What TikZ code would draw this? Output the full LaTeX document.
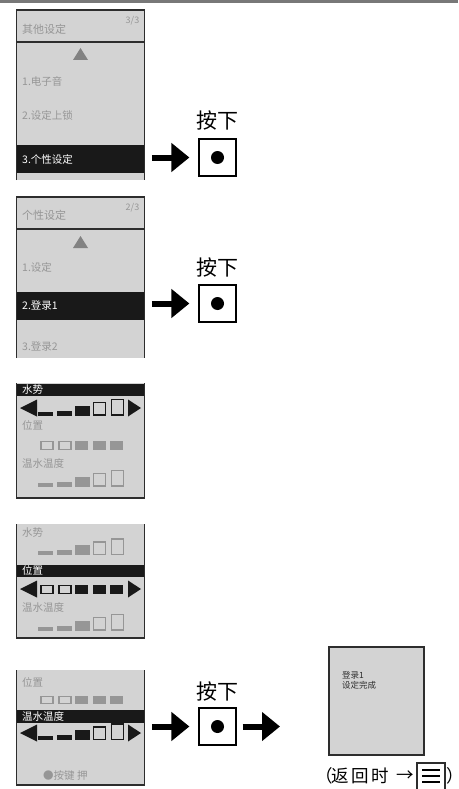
\documentclass[tikz,border=0pt]{standalone}
\usepackage{fontspec}
\setmainfont{Noto Sans CJK SC}
\usetikzlibrary{arrows.meta,calc}
\definecolor{scrfill}{RGB}{211,211,211}
\definecolor{dimtxt}{RGB}{150,150,150}
\definecolor{dimbar}{RGB}{150,150,150}
\definecolor{scrline}{RGB}{45,45,45}
\definecolor{topline}{RGB}{120,120,120}
\definecolor{trigray}{RGB}{130,130,130}
\definecolor{barblack}{RGB}{25,25,25}
\newcommand\levelrow[3]{%
  \fill[#2] (38,#1) rectangle (53,#1-4);
  \fill[#2] (57,#1) rectangle (72,#1-5);
  \fill[#2] (75,#1) rectangle (90,#1-10);
  \draw[#3,line width=1.1pt] (93.5,#1-0.5) rectangle (105.5,#1-13);
  \draw[#3,line width=1.1pt] (111.5,#1-0.5) rectangle (123.5,#1-16);
}
\newcommand\posrow[4]{%
  \draw[#4,line width=1.1pt] (41,#1+0.5) rectangle (53,#2-0.5);
  \draw[#4,line width=1.1pt] (59,#1+0.5) rectangle (71,#2-0.5);
  \fill[#3] (75,#1) rectangle (88,#2);
  \fill[#3] (93,#1) rectangle (106,#2);
  \fill[#3] (110,#1) rectangle (123,#2);
}
\newcommand\selarrows[1]{%
  \fill[barblack] (20,#1) -- (37,#1-8.5) -- (37,#1+8.5) -- cycle;
  \fill[barblack] (141,#1) -- (128,#1-8.5) -- (128,#1+8.5) -- cycle;
}
\newcommand\proppar[1]{{\addfontfeatures{RawFeature=+palt}#1}}
\newcommand\widetxt[1]{{\addfontfeatures{LetterSpace=12}#1}}
\tikzset{
  scrborder/.style={draw=scrline,line width=1.3pt},
  itemtxt/.style={font=\fontsize{10.5}{12}\selectfont,text=dimtxt,anchor=west,inner sep=0},
  hdrtxt/.style={font=\fontsize{11}{13}\selectfont,text=dimtxt,anchor=west,inner sep=0},
  pgtxt/.style={font=\fontsize{9}{11}\selectfont,text=dimtxt,inner sep=0},
  seltxt/.style={font=\fontsize{10.5}{12}\selectfont,text=white,anchor=west,inner sep=0},
  selbar/.style={fill=barblack,minimum width=128pt,inner sep=0,anchor=west},
  btnbox/.style={draw=black,line width=1.2pt,fill=white,minimum size=37pt,inner sep=0},
  presstxt/.style={font=\fontsize{21}{24}\selectfont,inner sep=0},
  bigarrow/.style={line width=6pt,-{Triangle[length=18pt,width=28pt]}},
  donetxt/.style={font=\fontsize{8.5}{10}\selectfont,text=scrline,anchor=west,inner sep=0},
  rettxt/.style={font=\fontsize{17.5}{20}\selectfont,inner sep=0},
}
\begin{document}
\begin{tikzpicture}[x=1pt,y=-1pt]
\useasboundingbox (0,0) rectangle (458,789);
\fill[topline] (0,0) rectangle (458,2.6);

% ---- screen 1
\fill[scrfill] (16.5,10) rectangle (144.5,180);
\node[selbar,minimum height=28pt] (sel1) at (16.5,159) {};
\draw[scrborder] (16.5,180) -- (16.5,10) -- (144.5,10) -- (144.5,180);
\draw[scrborder] (16.5,42) -- (144.5,42);
\node[hdrtxt] (h1) at (22,29) {其他设定};
\node[pgtxt] (pg1) at (132.5,20.5) {3/3};
\fill[trigray] (73,60) -- (88,60) -- (80.5,48) -- cycle;
\node[itemtxt] (i11) at (22,81) {1.电子音};
\node[itemtxt] (i12) at (22,115) {2.设定上锁};
\node[seltxt] (s1) at (22,159) {3.个性设定};

\node[btnbox] (btn1) at (217.5,157.5) {};
\fill (btn1.center) circle (6.5pt);
\node[presstxt] (p1) at ([yshift=18pt]btn1.north) {按下};
\draw[bigarrow] ($(sel1.east |- btn1.west)+(7pt,0)$) -- ($(btn1.west)+(-9pt,0)$);

% ---- screen 2
\fill[scrfill] (16.5,197) rectangle (144.5,358);
\node[selbar,minimum height=28pt] (sel2) at (16.5,306) {};
\draw[scrborder] (16.5,358) -- (16.5,197) -- (144.5,197) -- (144.5,358);
\draw[scrborder] (16.5,229) -- (144.5,229);
\node[hdrtxt] (h2) at (22,215) {个性设定};
\node[pgtxt] (pg2) at (132.5,207.5) {2/3};
\fill[trigray] (73,248) -- (88,248) -- (80.5,236) -- cycle;
\node[itemtxt] (i21) at (22,267) {1.设定};
\node[seltxt] (s2) at (22,306) {2.登录1};
\node[itemtxt] (i23) at (22,347) {3.登录2};

\node[btnbox] (btn2) at (217.5,303.5) {};
\fill (btn2.center) circle (6.5pt);
\node[presstxt] (p2) at ([yshift=17pt]btn2.north) {按下};
\draw[bigarrow] ($(sel2.east |- btn2.west)+(7pt,0)$) -- ($(btn2.west)+(-9pt,0)$);

% ---- screen 3
\fill[scrfill] (16.5,383) rectangle (144.5,498);
\node[selbar,minimum height=12.5pt] (sel3) at (16.5,390) {};
\draw[scrborder] (16.5,383) -- (16.5,498) -- (144.5,498) -- (144.5,383);
\node[seltxt] (s3) at (22,390) {水势};
\selarrows{408}
\levelrow{415.5}{barblack}{barblack}
\node[itemtxt] (i31) at (22,425) {位置};
\posrow{441}{450}{dimbar}{dimbar}
\node[itemtxt] (i32) at (22,463) {温水温度};
\levelrow{486.5}{dimbar}{dimbar}

% ---- screen 4
\fill[scrfill] (16.5,524) rectangle (144.5,638);
\node[selbar,minimum height=12pt] (sel4) at (16.5,570.5) {};
\draw[scrborder] (16.5,524) -- (16.5,638) -- (144.5,638) -- (144.5,524);
\node[itemtxt] (i41) at (22,533) {水势};
\levelrow{555}{dimbar}{dimbar}
\node[seltxt] (s4) at (22,570.5) {位置};
\selarrows{589}
\posrow{585}{594}{barblack}{barblack}
\node[itemtxt] (i42) at (22,607) {温水温度};
\levelrow{630.5}{dimbar}{dimbar}

% ---- screen 5
\fill[scrfill] (16.5,670) rectangle (144.5,785);
\node[selbar,minimum height=13pt] (sel5) at (16.5,716.5) {};
\draw[scrborder] (16.5,670) -- (16.5,785) -- (144.5,785) -- (144.5,670);
\node[itemtxt] (i51) at (22,682) {位置};
\posrow{696}{704}{dimbar}{dimbar}
\node[seltxt] (s5) at (22,716.5) {温水温度};
\selarrows{733}
\levelrow{740}{barblack}{barblack}
\node[itemtxt] (i52) at (43,775) {●按键 押};

\node[btnbox] (btn3) at (217.5,726.5) {};
\fill (btn3.center) circle (6.5pt);
\node[presstxt] (p3) at ([yshift=16pt]btn3.north) {按下};
\draw[bigarrow] ($(sel5.east |- btn3.west)+(7pt,0)$) -- ($(btn3.west)+(-9pt,0)$);
\coordinate (a4end) at (280,726.5);
\draw[bigarrow] ($(btn3.east)+(6pt,0)$) -- (a4end);

% ---- screen 6
\node[draw=scrline,line width=2pt,fill=scrfill,minimum width=95pt,minimum height=108pt,inner sep=0] (done) at (376.5,701) {};
\node[donetxt] (d1) at (342,675) {登录1};
\node[donetxt] (d2) at (342,685.5) {设定完成};

% ---- return hint
\node[rettxt,anchor=west] (ret) at (323,776) {\proppar{（}\widetxt{返回时}};
\node[rettxt] (retarr) at (405,776) {→};
\draw[scrborder,line width=1.2pt] (417,790) -- (417,763) -- (445,763) -- (445,790);
\draw[line width=1.3pt] (422,770) -- (440,770) (422,776) -- (440,776) (422,782) -- (440,782);
\node[rettxt,anchor=west] (retend) at (446.5,776) {\proppar{）}};
\end{tikzpicture}
\end{document}
